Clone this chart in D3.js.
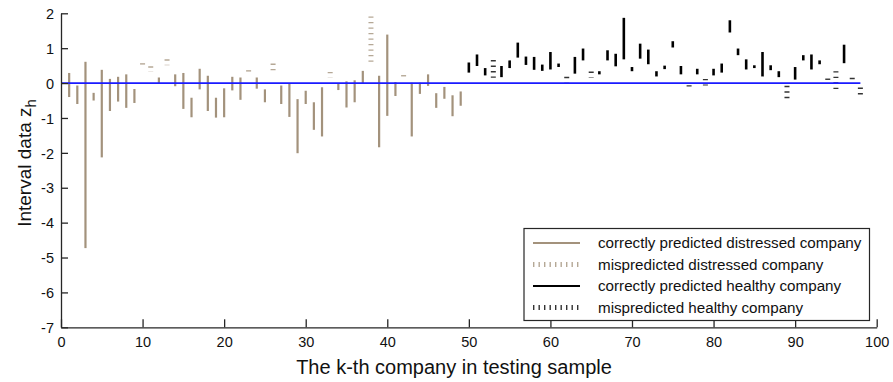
<!DOCTYPE html>
<html>
<head>
<meta charset="utf-8">
<script src="https://cdn.jsdelivr.net/npm/d3@7"></script>
<style>
  html, body { margin: 0; padding: 0; background: #fff; }
  svg { display: block; font-family: "Liberation Sans", Arial, sans-serif; }
</style>
</head>
<body>
<svg id="chart" width="893" height="382"></svg>
<script>
// ---- data ----
const companies = d3.range(1, 99);
const lower = [
  -0.40, -0.60, -4.73, -0.50, -2.13, -0.80, -0.53, -0.71, -0.57, 0.53,
   0.32, -0.02,  0.51, -0.09, -0.74, -0.98, -0.18, -0.80, -0.99, -0.98,
  -0.21, -0.48,  0.33, -0.16, -0.55,  0.37, -0.60, -0.97, -2.01, -0.60,
  -1.34, -1.53,  0.15, -0.20, -0.70, -0.55, -0.01,  0.53, -1.84, -0.94,
  -0.37,  0.19, -1.53, -0.31, -0.08, -0.71, -0.45, -0.95, -0.65,  0.30,
   0.49,  0.22,  0.15,  0.17,  0.43,  0.73,  0.52,  0.38,  0.35,  0.39,
   0.46,  0.02,  0.27,  0.65,  0.16,  0.25,  0.65,  0.48,  0.68,  0.34,
   0.70,  0.54,  0.19,  0.40,  1.02,  0.25, -0.22,  0.25, -0.07,  0.22,
   0.30,  1.45,  0.80,  0.39,  0.43,  0.19,  0.37,  0.17, -0.45,  0.10,
   0.65,  0.39,  0.54,  0.09, -0.20,  0.57, -0.03, -0.33
];
const upper = [
   0.29, -0.07,  0.61, -0.28,  0.38,  0.12,  0.18,  0.25, -0.17,  0.57,
   0.48,  0.16,  0.68,  0.25,  0.29, -0.42,  0.41,  0.21, -0.42, -0.15,
   0.18,  0.16,  0.37,  0.16, -0.18,  0.56, -0.07,  0.00, -0.46, -0.22,
  -0.55, -0.12,  0.32, -0.02,  0.05,  0.08,  0.35,  1.91,  0.21,  1.39,
   0.03,  0.23,  0.01,  0.01,  0.25, -0.29, -0.11, -0.35, -0.24,  0.59,
   0.82,  0.43,  0.66,  0.49,  0.65,  1.16,  0.76,  0.75,  0.53,  0.89,
   0.56,  0.18,  0.75,  0.99,  0.33,  0.34,  0.94,  0.84,  1.87,  0.46,
   1.13,  0.96,  0.34,  0.50,  1.20,  0.49, -0.06,  0.41,  0.12,  0.41,
   0.56,  1.80,  0.99,  0.68,  0.51,  0.89,  0.51,  0.34, -0.08,  0.46,
   0.80,  0.82,  0.65,  0.13,  0.34,  1.10,  0.15, -0.13
];
const distressedCount = 49;        // companies 1..49 distressed, 50..98 healthy
const mispredicted = [10, 11, 13, 23, 26, 33, 38, 42, 53, 62, 65, 77, 79, 89, 94, 95, 97, 98];
const xTicks = [0, 10, 20, 30, 40, 50, 60, 70, 80, 90, 100];
const yTicks = [2, 1, 0, -1, -2, -3, -4, -5, -6, -7];
const legendLabels = [
  "correctly predicted distressed company",
  "mispredicted distressed company",
  "correctly predicted healthy company",
  "mispredicted healthy company"
];

// ---- layout ----
const svg = d3.select("#chart");
const x = d3.scaleLinear().domain([0, 100]).range([61, 876.7]);
const y = d3.scaleLinear().domain([-7, 2]).range([327.3, 13.3]);

const tan = "#a3927c";
const black = "#000";
const dash = "1.4 4.1";

const rows = companies.map((k, i) => ({
  k, lo: lower[i], hi: upper[i],
  healthy: k > distressedCount,
  miss: mispredicted.includes(k)
}));

// bars
const g = svg.append("g");
g.selectAll("line.bar").data(rows).join("line")
  .attr("class", "bar")
  .attr("x1", d => x(d.k)).attr("x2", d => x(d.k))
  .attr("y1", d => y(d.hi)).attr("y2", d => y(d.lo))
  .attr("stroke", d => d.healthy ? black : tan)
  .attr("stroke-opacity", d => d.miss ? 0.8 : 1)
  .attr("stroke-width", d => d.miss ? 5 : (d.healthy ? 2.6 : 2.2))
  .attr("stroke-dasharray", d => d.miss ? dash : null);

// zero line
svg.append("line")
  .attr("x1", x(0)).attr("x2", x(98))
  .attr("y1", y(0)).attr("y2", y(0))
  .attr("stroke", "#1a1aff").attr("stroke-width", 1.6);

// axes
const axisColor = "#262626";
const fmt = d => String(d);
const xAxis = svg.append("g")
  .attr("transform", `translate(0,${y(-7)})`)
  .call(d3.axisBottom(x).tickValues(xTicks).tickFormat(fmt).tickSize(-8).tickSizeOuter(0).tickPadding(9));
const yAxis = svg.append("g")
  .attr("transform", `translate(${x(0)},0)`)
  .call(d3.axisLeft(y).tickValues(yTicks).tickFormat(fmt).tickSize(-7).tickSizeOuter(0).tickPadding(7));
[xAxis, yAxis].forEach(a => {
  a.select(".domain").attr("stroke", axisColor).attr("stroke-width", 1.3);
  a.selectAll(".tick line").attr("stroke", axisColor).attr("stroke-width", 1.3);
  a.selectAll(".tick text").attr("fill", "#111").attr("font-size", 14.5)
    .attr("font-family", "Liberation Sans, Arial, sans-serif");
});
yAxis.selectAll(".tick text").attr("dy", "0.36em");

// axis labels
svg.append("text")
  .attr("x", 454).attr("y", 374)
  .attr("text-anchor", "middle")
  .attr("font-size", 20).attr("fill", "#111")
  .text("The k-th company in testing sample");

const yl = svg.append("text")
  .attr("transform", "translate(31,163) rotate(-90)")
  .attr("text-anchor", "middle")
  .attr("font-size", 19).attr("fill", "#111");
yl.append("tspan").text("Interval data z");
yl.append("tspan").attr("dy", 5).attr("font-size", 15).text("h");

// legend
const lg = svg.append("g");
lg.append("rect")
  .attr("x", 524).attr("y", 228.5).attr("width", 345.5).attr("height", 92)
  .attr("fill", "#fff").attr("stroke", axisColor).attr("stroke-width", 1.2);
const legendStyles = [
  { color: tan, dashed: false },
  { color: tan, dashed: true },
  { color: black, dashed: false },
  { color: black, dashed: true }
];
legendLabels.forEach((lab, i) => {
  const cy = 243 + i * 21.5;
  const s = legendStyles[i];
  lg.append("line")
    .attr("x1", 533).attr("x2", 580).attr("y1", cy).attr("y2", cy)
    .attr("stroke", s.color)
    .attr("stroke-width", s.dashed ? 5 : 2.2)
    .attr("stroke-opacity", s.dashed ? 0.8 : 1)
    .attr("stroke-dasharray", s.dashed ? dash : null);
  lg.append("text")
    .attr("x", 598).attr("y", cy).attr("dy", "0.35em")
    .attr("font-size", 15.2).attr("fill", "#111")
    .text(lab);
});
</script>
</body>
</html>
